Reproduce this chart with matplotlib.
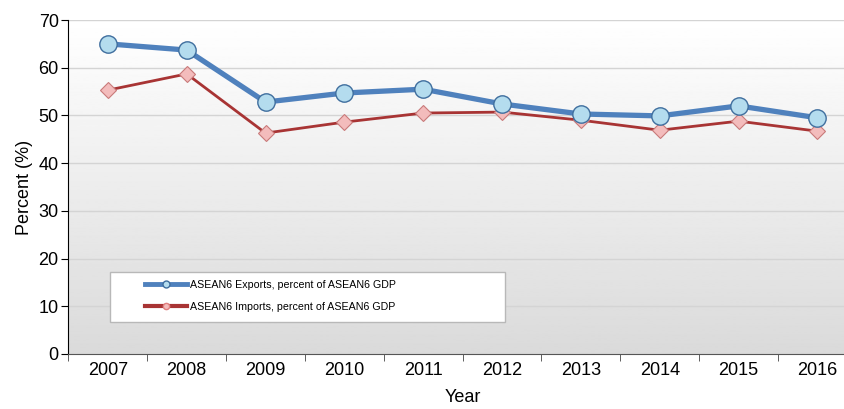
import numpy as np
import matplotlib
matplotlib.use('Agg')
import matplotlib.pyplot as plt
from matplotlib.lines import Line2D
from matplotlib.patches import Rectangle

plt.rcParams['font.family'] = ['Liberation Sans', 'DejaVu Sans']

# Datos
years = ['2007', '2008', '2009', '2010', '2011', '2012', '2013', '2014', '2015', '2016']
exports_pct = [65.0, 63.7, 52.8, 54.7, 55.5, 52.4, 50.3, 49.9, 52.0, 49.5]
imports_pct = [55.3, 58.7, 46.3, 48.6, 50.5, 50.7, 49.0, 46.9, 48.8, 46.7]
yticks = [0, 10, 20, 30, 40, 50, 60, 70]

fig = plt.figure(figsize=(8.45, 4.09), dpi=100)
ax = fig.add_axes([0.081, 0.1345, 0.933, 0.8166])

x = np.arange(len(years))

# Fondo degradado
grad = np.linspace(1.0, 0.855, 256).reshape(-1, 1)
ax.imshow(grad, extent=[0, 1, 0, 1], transform=ax.transAxes, cmap='gray',
          vmin=0, vmax=1, aspect='auto', zorder=0)

for yv in yticks[1:]:
    ax.axhline(yv, color='#d4d4d4', lw=1, zorder=1)

ax.plot(x, exports_pct, color='#4f81bd', lw=3.8, marker='o', markersize=12.5,
        markerfacecolor='#b4dcee', markeredgecolor='#3f6e9e', markeredgewidth=1.0,
        zorder=4)
ax.plot(x, imports_pct, color='#a83434', lw=2.0, marker='D', markersize=8.5,
        markerfacecolor='#f3bcbc', markeredgecolor='#c97a7a', markeredgewidth=0.8,
        zorder=3)

ax.set_xlim(-0.5, len(years) - 0.5)
ax.set_ylim(0, 70)
ax.set_yticks(yticks)
ax.set_xticks(x)
ax.set_xticklabels(years)
ax.set_xticks(np.arange(-0.5, len(years), 1), minor=True)
ax.tick_params(axis='x', which='major', length=0, labelsize=13, pad=6)
ax.tick_params(axis='x', which='minor', length=5, color='#444444')
ax.tick_params(axis='y', length=5, labelsize=13, pad=2)

for s in ['top', 'right']:
    ax.spines[s].set_visible(False)
ax.spines['left'].set_color('black')
ax.spines['bottom'].set_color('#555555')

ax.set_ylabel('Percent (%)', fontsize=13, labelpad=4)
ax.set_xlabel('Year', fontsize=13, labelpad=7)

# Leyenda: marco aparte y entradas sin marco
box = Rectangle((0.053, 0.096), 0.501, 0.15, transform=ax.transAxes,
                facecolor='white', edgecolor='#b8b8b8', lw=1.0, zorder=5)
ax.add_patch(box)

handles = [
    Line2D([], [], color='#4f81bd', lw=3.5, marker='o', markersize=5,
           markerfacecolor='#b4dcee', markeredgecolor='#3f6e9e'),
    Line2D([], [], color='#a83434', lw=3.0, marker='o', markersize=4.5,
           markerfacecolor='#f3bcbc', markeredgecolor='#e08080'),
]
leg = ax.legend(handles, ['ASEAN6 Exports, percent of ASEAN6 GDP',
                          'ASEAN6 Imports, percent of ASEAN6 GDP'],
                loc='upper left', bbox_to_anchor=(0.097, 0.222), fontsize=7.7,
                frameon=False, borderpad=0, handlelength=3.9,
                handletextpad=0.3, labelspacing=1.15, borderaxespad=0)
leg.set_zorder(6)

fig.savefig('out.png', dpi=100)
